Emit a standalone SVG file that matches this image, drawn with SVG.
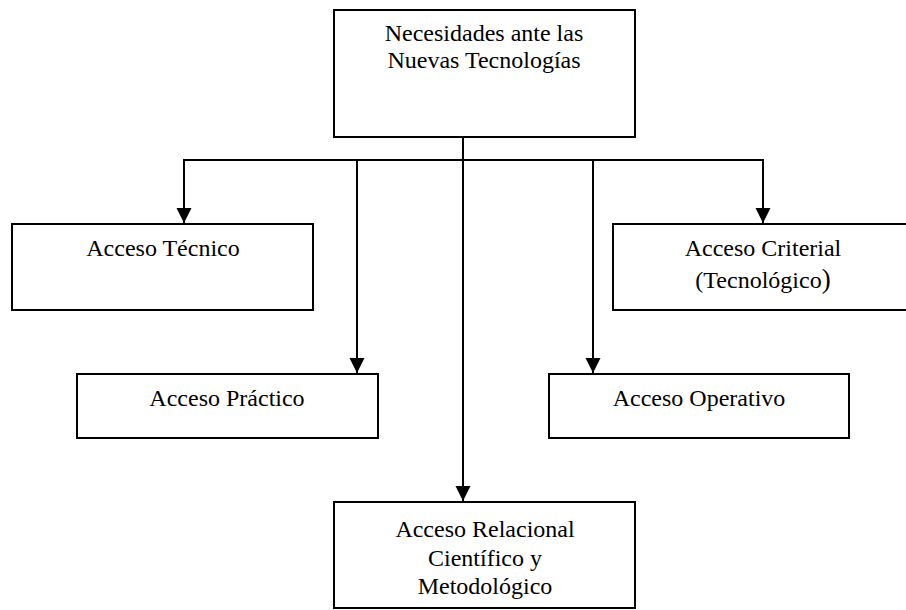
<svg xmlns="http://www.w3.org/2000/svg" width="906" height="610" viewBox="0 0 906 610">
<defs>
<marker id="ah" markerUnits="userSpaceOnUse" markerWidth="16" markerHeight="16" viewBox="0 0 16 16" refX="15" refY="8" orient="auto">
<path d="M0,0.5 L15,8 L0,15.5 Z" fill="#000"/>
</marker>
</defs>
<style>
.box{fill:#fff;stroke:#000;stroke-width:2}
.ln{fill:none;stroke:#000;stroke-width:2}
text{font-family:"Liberation Serif","Times New Roman",serif;font-size:24px;fill:#000;text-anchor:middle}
</style>
<rect width="906" height="610" fill="#fff"/>
<g id="connectors">
<line class="ln" x1="463" y1="138" x2="463" y2="501" marker-end="url(#ah)"/>
<line class="ln" x1="184" y1="160" x2="763" y2="160"/>
<line class="ln" x1="184" y1="159" x2="184" y2="223" marker-end="url(#ah)"/>
<line class="ln" x1="357" y1="160" x2="357" y2="373" marker-end="url(#ah)"/>
<line class="ln" x1="593" y1="160" x2="593" y2="373" marker-end="url(#ah)"/>
<line class="ln" x1="763" y1="159" x2="763" y2="223" marker-end="url(#ah)"/>
</g>
<g id="top">
<rect class="box" x="334" y="10" width="301" height="127"/>
<text x="484" y="41">Necesidades ante las</text>
<text x="484" y="68">Nuevas Tecnologías</text>
</g>
<g id="tecnico">
<rect class="box" x="12" y="224" width="301" height="86"/>
<text x="163" y="256">Acceso Técnico</text>
</g>
<g id="criterial">
<rect class="box" x="613" y="224" width="301" height="86"/>
<text x="763" y="256">Acceso Criterial</text>
<text x="763" y="288">(Tecnológico<tspan font-size="27">)</tspan></text>
</g>
<g id="practico">
<rect class="box" x="77" y="374" width="301" height="64"/>
<text x="227" y="406">Acceso Práctico</text>
</g>
<g id="operativo">
<rect class="box" x="549" y="374" width="300" height="64"/>
<text x="699" y="406">Acceso Operativo</text>
</g>
<g id="relacional">
<rect class="box" x="334" y="502" width="301" height="106"/>
<text x="485" y="537">Acceso Relacional</text>
<text x="485" y="566">Científico y</text>
<text x="485" y="594">Metodológico</text>
</g>
</svg>
